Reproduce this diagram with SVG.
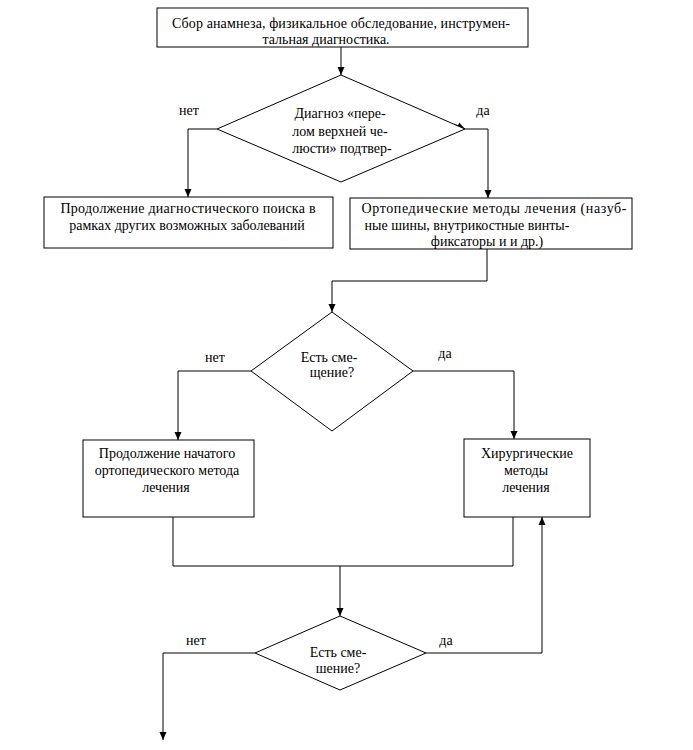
<svg xmlns="http://www.w3.org/2000/svg" width="693" height="750" viewBox="0 0 693 750">
<style>
.box{fill:#fff;stroke:#000;stroke-width:1}
.dia{fill:#fff;stroke:#000;stroke-width:1}
.t{font-size:14px;fill:#000;text-anchor:middle}
.c{fill:none;stroke:#000;stroke-width:1}
</style>
<defs>
<marker id="ah" viewBox="0 0 8 8" refX="8" refY="4" markerWidth="8" markerHeight="8" markerUnits="userSpaceOnUse" orient="auto">
<path d="M0,0.5 L8,4 L0,7.5 z" fill="#000"/>
</marker>
</defs>
<rect width="693" height="750" fill="#fff"/>
<g id="connectors">
<path class="c" d="M341,47 V75" marker-end="url(#ah)"/>
<path class="c" d="M217,129 H188 V197" marker-end="url(#ah)"/>
<path class="c" d="M465,129 H488 V198" marker-end="url(#ah)"/>
<path class="c" d="M454,124 L465,129" marker-end="url(#ah)"/>
<path class="c" d="M487,249 V281 H332 V312" marker-end="url(#ah)"/>
<path class="c" d="M251,371 H178 V440" marker-end="url(#ah)"/>
<path class="c" d="M413,371 H514 V439" marker-end="url(#ah)"/>
<path class="c" d="M173,517 V566 H513 V517"/>
<path class="c" d="M340,566 V616" stroke-width="2" marker-end="url(#ah)"/>
<path class="c" d="M426,653 H542 V517" marker-end="url(#ah)"/>
<path class="c" d="M255,653 H163 V740" marker-end="url(#ah)"/>
</g>
<g id="n1">
<rect class="box" x="157" y="8" width="371" height="39"/>
<text class="t" font-family="Liberation Serif" x="341" y="28" textLength="338" lengthAdjust="spacing">Сбор анамнеза, физикальное обследование, инструмен-</text>
<text class="t" font-family="Liberation Serif" x="326" y="44">тальная диагностика.</text>
</g>
<g id="d1">
<polygon class="dia" points="341,75 465,129 341,182 217,129"/>
<text class="t" font-family="Liberation Serif" x="340" y="118">Диагноз «пере-</text>
<text class="t" font-family="Liberation Serif" x="340" y="136">лом верхней че-</text>
<text class="t" font-family="Liberation Serif" x="342" y="153">люсти» подтвер-</text>
</g>
<text class="t" font-family="Liberation Serif" x="189" y="115">нет</text>
<text class="t" font-family="Liberation Serif" x="483" y="115">да</text>
<g id="n2">
<rect class="box" x="44" y="197" width="289" height="51"/>
<text class="t" font-family="Liberation Serif" x="188" y="213" textLength="255" lengthAdjust="spacing">Продолжение  диагностического поиска в</text>
<text class="t" font-family="Liberation Serif" x="187" y="230">рамках других возможных заболеваний</text>
</g>
<g id="n3">
<rect class="box" x="350" y="198" width="282" height="51"/>
<text class="t" font-family="Liberation Serif" x="494" y="213" textLength="265" lengthAdjust="spacing">Ортопедические методы лечения (назуб-</text>
<text class="t" font-family="Liberation Serif" x="467" y="230">ные шины, внутрикостные винты-</text>
<text class="t" font-family="Liberation Serif" x="487" y="246">фиксаторы и и др.)</text>
</g>
<g id="d2">
<polygon class="dia" points="332,312 413,371 332,431 251,371"/>
<text class="t" font-family="Liberation Serif" x="329" y="362">Есть сме-</text>
<text class="t" font-family="Liberation Serif" x="332" y="377">щение?</text>
</g>
<text class="t" font-family="Liberation Serif" x="215" y="362">нет</text>
<text class="t" font-family="Liberation Serif" x="445" y="358">да</text>
<g id="n4">
<rect class="box" x="83" y="440" width="171" height="77"/>
<text class="t" font-family="Liberation Serif" x="167" y="458">Продолжение начатого</text>
<text class="t" font-family="Liberation Serif" x="167" y="475">ортопедического метода</text>
<text class="t" font-family="Liberation Serif" x="166" y="492">лечения</text>
</g>
<g id="n5">
<rect class="box" x="464" y="439" width="126" height="78"/>
<text class="t" font-family="Liberation Serif" x="527" y="458">Хирургические</text>
<text class="t" font-family="Liberation Serif" x="526" y="475">методы</text>
<text class="t" font-family="Liberation Serif" x="526" y="492">лечения</text>
</g>
<g id="d3">
<polygon class="dia" points="340,616 426,653 340,690 255,653"/>
<text class="t" font-family="Liberation Serif" x="338" y="657">Есть сме-</text>
<text class="t" font-family="Liberation Serif" x="338" y="673">шение?</text>
</g>
<text class="t" font-family="Liberation Serif" x="196" y="645">нет</text>
<text class="t" font-family="Liberation Serif" x="446" y="645">да</text>
</svg>
